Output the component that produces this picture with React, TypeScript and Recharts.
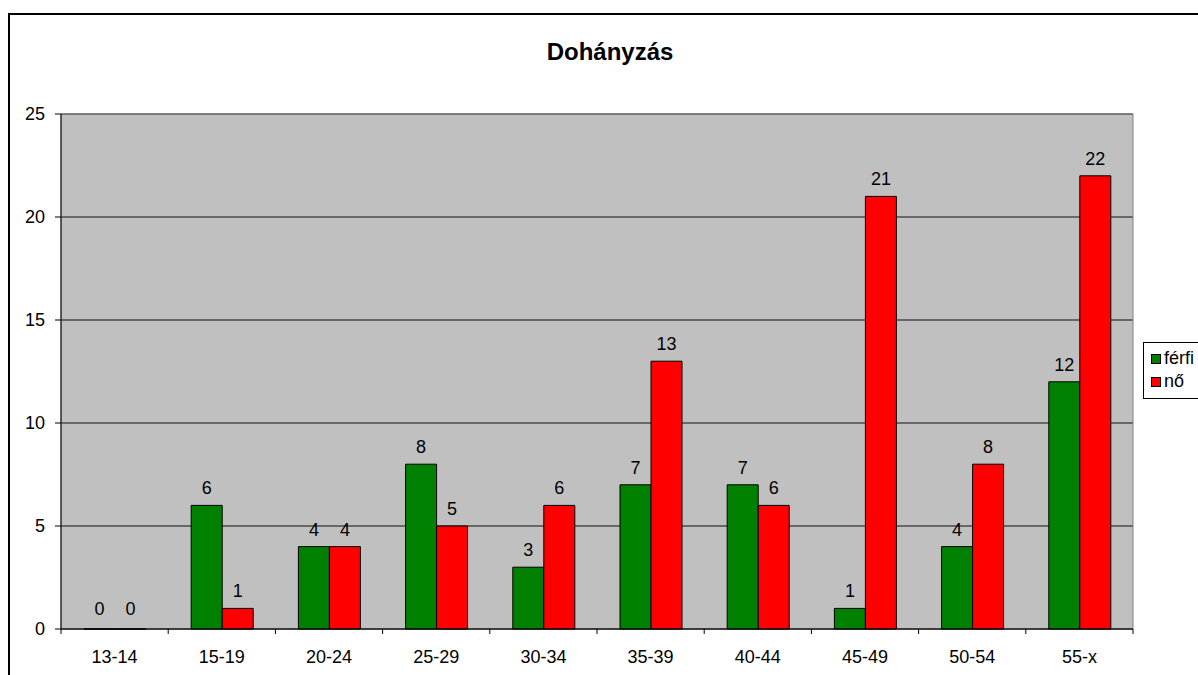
import React from 'react';
import { BarChart, Bar, XAxis, YAxis, CartesianGrid, LabelList, Legend, ReferenceArea } from 'recharts';

const categories = ['13-14', '15-19', '20-24', '25-29', '30-34', '35-39', '40-44', '45-49', '50-54', '55-x'];
const ferfi = [0, 6, 4, 8, 3, 7, 7, 1, 4, 12];
const no = [0, 1, 4, 5, 6, 13, 6, 21, 8, 22];
const yTicks = [0, 5, 10, 15, 20, 25];

const data = categories.map((c, i) => ({ name: c, ferfi: ferfi[i], no: no[i] }));

const FONT = '"Liberation Sans", Arial, sans-serif';
const CHART_W = 1198;
const CHART_H = 675;
const M_LEFT = 0;
const Y_W = 61;
const M_RIGHT = 65;
const PLOT_W = CHART_W - M_LEFT - Y_W - M_RIGHT;
const BAND = PLOT_W / categories.length;

function XTick(props: any) {
  const { x, y, payload } = props;
  const idx = payload?.index ?? props.index ?? 0;
  const left = x - BAND / 2;
  const right = x + BAND / 2;
  return (
    <g>
      <line x1={left} x2={left} y1={y - 21} y2={y - 16} stroke="#000" />
      {idx === categories.length - 1 && (
        <line x1={right} x2={right} y1={y - 21} y2={y - 16} stroke="#000" />
      )}
      <text x={x} y={y} dy="0.71em" textAnchor="middle" fontSize={18} fill="#000" fontFamily={FONT}>
        {payload.value}
      </text>
    </g>
  );
}

function BarValueLabel(props: any) {
  const { x, y, width, height, value } = props;
  const top = Math.min(Number(y), Number(y) + Number(height || 0));
  const off = Number(value) === 0 ? 14 : 11;
  return (
    <text
      x={Number(x) + Number(width) / 2}
      y={top - off}
      textAnchor="middle"
      fontSize={18}
      fill="#000"
      fontFamily={FONT}
    >
      {String(value)}
    </text>
  );
}

function LegendBox(props: any) {
  const items = props.payload || [];
  return (
    <div
      style={{
        border: '1px solid #000',
        background: '#fff',
        width: 70,
        height: 57,
        boxSizing: 'border-box',
        padding: '4px 0 0 7px',
        fontFamily: FONT,
        fontSize: 18,
        color: '#000',
        textAlign: 'left',
      }}
    >
      {items.map((it: any) => (
        <div key={it.value} style={{ display: 'flex', alignItems: 'center', height: 23 }}>
          <span
            style={{
              display: 'inline-block',
              width: 8,
              height: 8,
              background: it.color,
              border: '1px solid #000',
              marginRight: 3,
            }}
          />
          <span>{it.value}</span>
        </div>
      ))}
    </div>
  );
}

const tinyForZero = (v: any) => (Number(v) === 0 ? 0.01 : 0);

export default function App() {
  return (
    <div
      style={{
        position: 'absolute',
        left: 0,
        top: 0,
        width: CHART_W,
        height: CHART_H,
        overflow: 'hidden',
        background: '#fff',
        fontFamily: FONT,
      }}
    >
      <div
        style={{
          position: 'absolute',
          left: 8,
          top: 13,
          width: 1300,
          height: 800,
          border: '2px solid #000',
          boxSizing: 'border-box',
        }}
      />
      <div
        style={{
          position: 'absolute',
          left: 0,
          top: 40,
          width: 1220,
          textAlign: 'center',
          fontSize: 24,
          lineHeight: '24px',
          fontWeight: 'bold',
          color: '#000',
        }}
      >
        Dohányzás
      </div>
      <div style={{ position: 'absolute', left: 0, top: 0 }}>
        <BarChart
          width={CHART_W}
          height={CHART_H}
          data={data}
          margin={{ top: 114, right: M_RIGHT, left: M_LEFT, bottom: 0 }}
          barSize={31}
          barGap={0}
        >
          <CartesianGrid fill="#C0C0C0" stroke="#111" vertical={false} />
          <ReferenceArea y1={0} y2={25} fill="none" stroke="#808080" strokeWidth={1} ifOverflow="visible" />
          <XAxis
            dataKey="name"
            interval={0}
            height={46}
            tickSize={5}
            tickMargin={16}
            tickLine={false}
            axisLine={{ stroke: '#000' }}
            tick={<XTick />}
          />
          <YAxis
            width={Y_W}
            domain={[0, 25]}
            ticks={yTicks}
            tickSize={6}
            tickMargin={10}
            axisLine={{ stroke: '#000' }}
            tickLine={{ stroke: '#000' }}
            tick={{ fontSize: 18, fill: '#000', fontFamily: FONT }}
          />
          <Legend
            layout="horizontal"
            verticalAlign="middle"
            align="center"
            wrapperStyle={{ position: 'absolute', left: 1143, top: 342, width: 70 }}
            content={<LegendBox />}
          />
          <Bar dataKey="ferfi" name="férfi" fill="#008000" stroke="#000" strokeWidth={1} minPointSize={tinyForZero} isAnimationActive={false}>
            <LabelList dataKey="ferfi" content={<BarValueLabel />} />
          </Bar>
          <Bar dataKey="no" name="nő" fill="#FF0000" stroke="#000" strokeWidth={1} minPointSize={tinyForZero} isAnimationActive={false}>
            <LabelList dataKey="no" content={<BarValueLabel />} />
          </Bar>
        </BarChart>
      </div>
    </div>
  );
}
